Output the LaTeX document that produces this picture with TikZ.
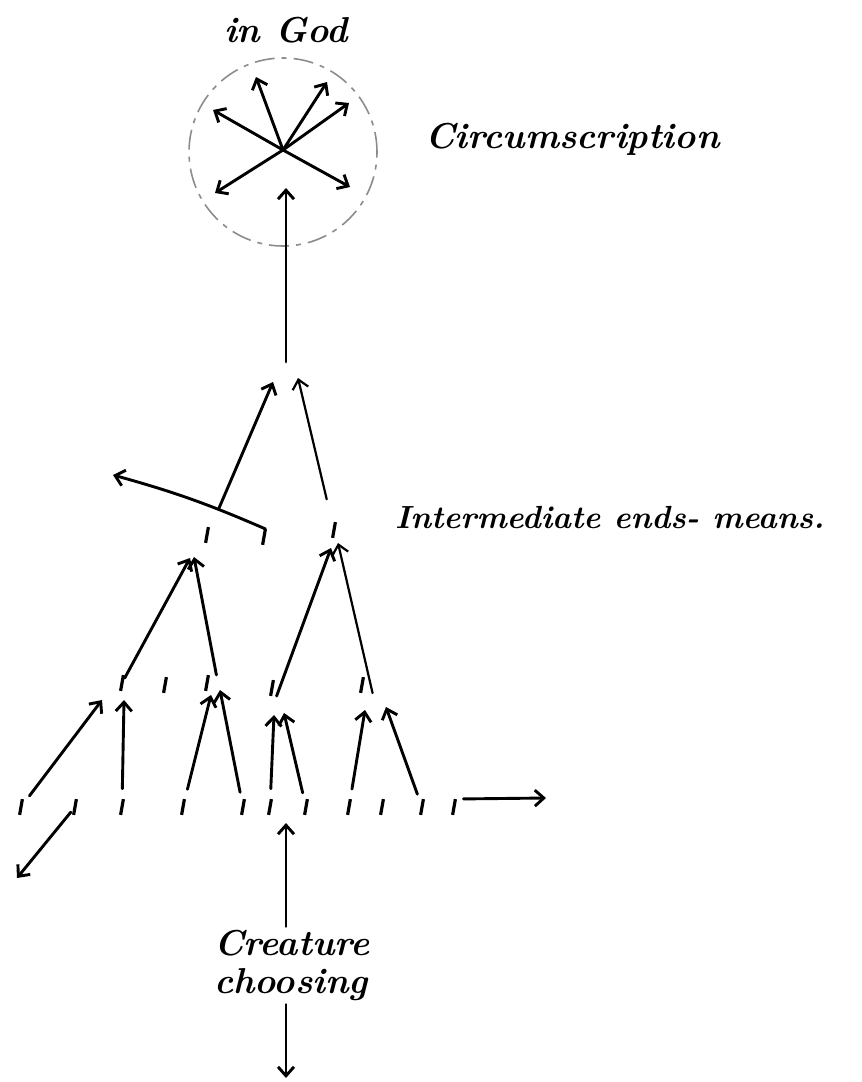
\documentclass[tikz,border=0pt]{standalone}
\usetikzlibrary{arrows.meta}
\tikzset{
  arr/.style={line width=2.9pt,line cap=round,-{Straight Barb[length=9pt,width=16pt]}},
  tick/.style={fill,inner sep=0pt,minimum width=3.2pt,minimum height=16pt,rotate=-10},
  hand/.style={inner sep=0pt,font=\fontsize{36}{42}\selectfont\bfseries\itshape}
}
\begin{document}
\begin{tikzpicture}[x=1pt,y=-1pt]
    \useasboundingbox (0,0) rectangle (862,1082);
    \node[circle,draw=black!45,line width=1.6pt,dash pattern=on 20pt off 7pt on 5pt off 7pt,minimum size=188pt] (god) at (283,152) {};
    \node[hand,anchor=base] (ingod) at (286,42) {in God};
    \node[hand,anchor=base west] (circ) at (425,148) {Circumscription};
    \node[hand,anchor=base west,font=\fontsize{32}{38}\selectfont\bfseries\itshape] (inter) at (395,528) {Intermediate ends- means.};
    \node[hand,anchor=base west] (creature) at (214,955) {Creature};
    \node[hand,anchor=base west] (choosing) at (214,993) {choosing};
    \coordinate (hub) at (283,150);
    \coordinate (s1) at (213,110);
    \coordinate (s2) at (256,77);
    \coordinate (s3) at (327,82);
    \coordinate (s4) at (349,103);
    \coordinate (s5) at (215,193);
    \coordinate (s6) at (350,187);
    \foreach \i in {1,...,6} \draw[arr] (hub) -- (s\i);
    \coordinate (apex) at (286,362);
    \coordinate (up) at (286,188);
    \draw[arr] (apex) -- (up);
    \foreach \x/\y [count=\i] in {207/535,264/537,334/530} \node[tick] (n\i) at (\x,\y) {};
    \foreach \x/\y [count=\i] in {122/683,165/685,207/683,272/688,362/685} \node[tick] (m\i) at (\x,\y) {};
    \foreach \x [count=\i] in {21,75,122,183,243,270,306,349,382,422,454} \node[tick] (b\i) at (\x,807) {};
    \coordinate (lt) at (113,475);
    \coordinate (v1) at (273,382);
    \coordinate (v2) at (298,378);
    \draw[arr] (n2.north) to[bend right=4] coordinate[pos=.3] (fork) (lt);
    \draw[arr] (fork) -- (v1);
    \draw[arr,line width=2.2pt,shorten <=27pt] (n3) -- (v2);
    \coordinate (u1) at (190,558);
    \coordinate (u2) at (194,557);
    \coordinate (u3) at (331,548);
    \coordinate (u4) at (338,543);
    \draw[arr] (m1) -- (u1);
    \draw[arr] ([xshift=8pt]m3.north) -- (u2);
    \draw[arr] ([xshift=6pt]m4.south) -- (u3);
    \draw[arr,line width=2.2pt] ([xshift=12pt]m5.south) -- (u4);
    \coordinate (t1) at (102,700);
    \coordinate (t2) at (124,700);
    \coordinate (t3) at (211,695);
    \coordinate (t4) at (220,690);
    \coordinate (t5) at (274,715);
    \coordinate (t6) at (284,713);
    \coordinate (t7) at (365,710);
    \coordinate (t8) at (386,707);
    \foreach \s/\t in {b1/t1,b3/t2,b4/t3,b5/t4,b6/t5,b7/t6,b8/t7,b10/t8}
        \draw[arr,shorten <=10pt] (\s) -- (\t);
    \coordinate (sw) at (17,878);
    \coordinate (far) at (546,798);
    \draw[arr,shorten <=3pt] (b2) -- (sw);
    \draw[arr] ([xshift=8pt]b11.north) -- (far);
    \coordinate (rise) at (286,823);
    \coordinate (bot) at (286,1078);
    \draw[arr,shorten <=3pt] (rise |- creature.north) -- (rise);
    \draw[arr,shorten <=4pt] (bot |- choosing.south) -- (bot);
\end{tikzpicture}
\end{document}
